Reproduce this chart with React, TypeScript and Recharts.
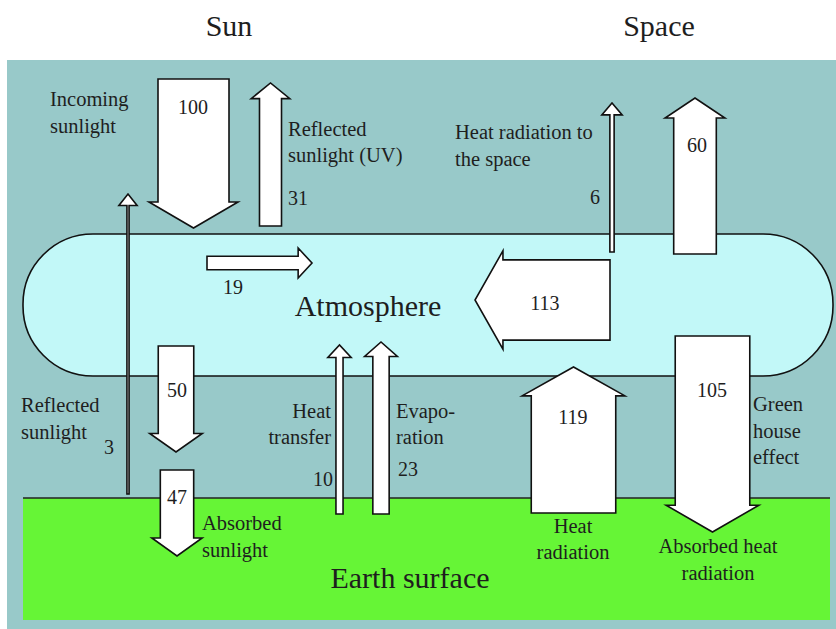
import * as React from "react"
import { ReferenceArea, ReferenceLine, Rectangle, Scatter, ScatterChart, XAxis, YAxis } from "recharts"

// energy flows, in % of incoming sunlight
const flowNames = [
	"Incoming sunlight",
	"Reflected sunlight (UV)",
	"Reflected sunlight",
	"Absorbed by atmosphere",
	"Sunlight through atmosphere",
	"Absorbed sunlight",
	"Heat transfer",
	"Evaporation",
	"Atmosphere radiation",
	"Heat radiation to the space",
	"Radiation to space",
	"Heat radiation",
	"Green house effect",
]
const flowValues = [100, 31, 3, 19, 50, 47, 10, 23, 113, 6, 60, 119, 105]

// where each flow runs (tail -> tip) and where its number sits, in plot units
const flowPaths = [
	{ x0: 193.5, y0: 79, x1: 193.5, y1: 228, lx: 193, ly: 107, anchor: "middle" },
	{ x0: 270.5, y0: 226, x1: 270.5, y1: 83, lx: 288, ly: 198, anchor: "start" },
	{ x0: 128, y0: 494, x1: 128, y1: 194, lx: 109, ly: 447, anchor: "middle" },
	{ x0: 207, y0: 263, x1: 312, y1: 263, lx: 233, ly: 287, anchor: "middle" },
	{ x0: 176, y0: 346, x1: 176, y1: 452, lx: 177, ly: 390, anchor: "middle" },
	{ x0: 177, y0: 470, x1: 177, y1: 556, lx: 177, ly: 497, anchor: "middle" },
	{ x0: 339.5, y0: 514, x1: 339.5, y1: 345, lx: 333, ly: 479, anchor: "end" },
	{ x0: 381, y0: 514, x1: 381, y1: 342, lx: 398, ly: 469, anchor: "start" },
	{ x0: 610, y0: 300, x1: 475, y1: 300, lx: 545, ly: 303, anchor: "middle" },
	{ x0: 612, y0: 252, x1: 612, y1: 103, lx: 595, ly: 197, anchor: "middle" },
	{ x0: 695, y0: 254, x1: 695, y1: 98, lx: 697, ly: 145, anchor: "middle" },
	{ x0: 573.5, y0: 513, x1: 573.5, y1: 367, lx: 573, ly: 417, anchor: "middle" },
	{ x0: 712.5, y0: 336, x1: 712.5, y1: 532, lx: 712, ly: 390, anchor: "middle" },
]

const captions = [
	"Sun",
	"Space",
	"Incoming",
	"sunlight",
	"Reflected",
	"sunlight (UV)",
	"Heat radiation to",
	"the space",
	"Atmosphere",
	"Reflected",
	"sunlight",
	"Heat",
	"transfer",
	"Evapo-",
	"ration",
	"Green",
	"house",
	"effect",
	"Absorbed",
	"sunlight",
	"Heat",
	"radiation",
	"Absorbed heat",
	"radiation",
	"Earth surface",
]

const captionSpots = [
	{ x: 229, y: 25, anchor: "middle", big: true },
	{ x: 659, y: 25, anchor: "middle", big: true },
	{ x: 50, y: 99, anchor: "start" },
	{ x: 50, y: 126, anchor: "start" },
	{ x: 288, y: 129, anchor: "start" },
	{ x: 288, y: 155, anchor: "start" },
	{ x: 455, y: 132, anchor: "start" },
	{ x: 455, y: 159, anchor: "start" },
	{ x: 368, y: 305, anchor: "middle", big: true },
	{ x: 21, y: 405, anchor: "start" },
	{ x: 21, y: 432, anchor: "start" },
	{ x: 331, y: 411, anchor: "end" },
	{ x: 331, y: 437, anchor: "end" },
	{ x: 396, y: 411, anchor: "start" },
	{ x: 396, y: 437, anchor: "start" },
	{ x: 753, y: 404, anchor: "start" },
	{ x: 753, y: 431, anchor: "start" },
	{ x: 753, y: 457, anchor: "start" },
	{ x: 202, y: 523, anchor: "start" },
	{ x: 202, y: 550, anchor: "start" },
	{ x: 573, y: 526, anchor: "middle" },
	{ x: 573, y: 552, anchor: "middle" },
	{ x: 718, y: 546, anchor: "middle" },
	{ x: 718, y: 573, anchor: "middle" },
	{ x: 410, y: 577, anchor: "middle", big: true },
]

const W = 836
const H = 629
const FONT = "'Liberation Serif', 'Times New Roman', serif"
const INK = "#1e1e1e"

const flowData = flowValues.map((value, i) => ({
	x: flowPaths[i].x0,
	y: flowPaths[i].y0,
	value,
	name: flowNames[i],
	...flowPaths[i],
}))

const captionData = captions.map((text, i) => ({ ...captionSpots[i], text }))

// eslint-disable-next-line @typescript-eslint/no-explicit-any
const renderArrow = (props: any) => {
	const { cx, cy, payload } = props
	const k = W / W // plot units are 1:1 with pixels
	const tx = cx + (payload.x1 - payload.x0) * k
	const ty = cy + (payload.y1 - payload.y0) * k
	const len = Math.hypot(tx - cx, ty - cy)
	const dx = (tx - cx) / len
	const dy = (ty - cy) / len
	const nx = -dy
	const ny = dx
	const w = Math.max(payload.value * 0.71, 1.5) / 2
	const head = 11 + payload.value * 0.15
	const wing = w + 8 + payload.value * 0.01
	const bx = tx - dx * head
	const by = ty - dy * head
	const pts = [
		[cx + nx * w, cy + ny * w],
		[bx + nx * w, by + ny * w],
		[bx + nx * wing, by + ny * wing],
		[tx, ty],
		[bx - nx * wing, by - ny * wing],
		[bx - nx * w, by - ny * w],
		[cx - nx * w, cy - ny * w],
	]
	const d = "M" + pts.map((p) => `${p[0]},${p[1]}`).join("L") + "Z"
	return (
		<g>
			<path d={d} fill="#ffffff" stroke="#111" strokeWidth={1.6} strokeLinejoin="miter" />
			<text
				x={cx + (payload.lx - payload.x0) * k}
				y={cy + (payload.ly - payload.y0) * k}
				textAnchor={payload.anchor}
				dominantBaseline="central"
				fontFamily={FONT}
				fontSize={20}
				fill={INK}>
				{payload.value}
			</text>
		</g>
	)
}

// eslint-disable-next-line @typescript-eslint/no-explicit-any
const renderCaption = (props: any) => {
	const { cx, cy, payload } = props
	return (
		<text
			x={cx}
			y={cy}
			textAnchor={payload.anchor}
			dominantBaseline="central"
			fontFamily={FONT}
			fontSize={payload.big ? 30 : 20.5}
			fill={INK}>
			{payload.text}
		</text>
	)
}

export default function App() {
	return (
		<div style={{ position: "absolute", left: 0, top: 0, width: W, height: H, background: "#fff" }}>
			<ScatterChart width={W} height={H} margin={{ top: 0, right: 0, bottom: 0, left: 0 }}>
				<XAxis type="number" dataKey="x" domain={[0, W]} hide />
				<YAxis type="number" dataKey="y" domain={[0, H]} reversed hide />
				<ReferenceArea x1={7} x2={W} y1={60} y2={H} fill="#98c9c9" fillOpacity={1} stroke="none" />
				<ReferenceArea x1={23} x2={830} y1={498} y2={620} fill="#66f536" fillOpacity={1} stroke="none" />
				<ReferenceLine
					segment={[
						{ x: 23, y: 498 },
						{ x: 830, y: 498 },
					]}
					stroke="#222"
					strokeWidth={1.6}
				/>
				<ReferenceArea
					x1={23}
					x2={833}
					y1={234}
					y2={376}
					fill="#c2f8f8"
					fillOpacity={1}
					stroke="#111"
					strokeWidth={1.6}
					// eslint-disable-next-line @typescript-eslint/no-explicit-any
					shape={(p: any) => <Rectangle {...p} radius={70} />}
				/>
				<Scatter data={flowData} shape={renderArrow} isAnimationActive={false} />
				<Scatter data={captionData} shape={renderCaption} isAnimationActive={false} />
			</ScatterChart>
		</div>
	)
}
